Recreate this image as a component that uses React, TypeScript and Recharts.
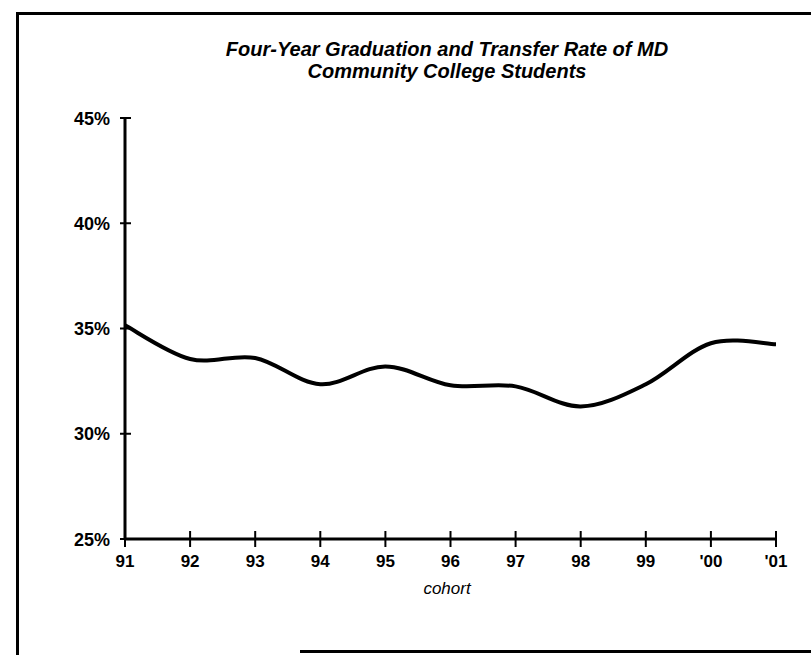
import React from 'react';
import { LineChart, Line, XAxis, YAxis } from 'recharts';

const categories = ['91', '92', '93', '94', '95', '96', '97', '98', '99', "'00", "'01"];
const rates = [35.15, 33.55, 33.6, 32.35, 33.2, 32.3, 32.25, 31.3, 32.35, 34.3, 34.25];
const yTicks = [25, 30, 35, 40, 45];

const data = categories.map((c, i) => ({ cohort: c, rate: rates[i] }));

const FONT = '"Liberation Sans", Arial, sans-serif';

const catmullRom: any = (context: any) => {
  let pts: [number, number][] = [];
  return {
    areaStart() {},
    areaEnd() {},
    lineStart() {
      pts = [];
    },
    lineEnd() {
      const n = pts.length;
      if (!n) return;
      context.moveTo(pts[0][0], pts[0][1]);
      for (let i = 0; i < n - 1; i++) {
        const p0 = pts[Math.max(i - 1, 0)];
        const p1 = pts[i];
        const p2 = pts[i + 1];
        const p3 = pts[Math.min(i + 2, n - 1)];
        context.bezierCurveTo(
          p1[0] + (p2[0] - p0[0]) / 6,
          p1[1] + (p2[1] - p0[1]) / 6,
          p2[0] - (p3[0] - p1[0]) / 6,
          p2[1] - (p3[1] - p1[1]) / 6,
          p2[0],
          p2[1]
        );
      }
    },
    point(x: number, y: number) {
      pts.push([+x, +y]);
    },
  };
};

const XTick = (props: any) => {
  const { x, y, payload } = props;
  return (
    <g>
      <line x1={x} x2={x} y1={y - 8} y2={y + 8} stroke="#000" strokeWidth={2} />
      <text x={x} y={y + 28} textAnchor="middle" fontFamily={FONT} fontWeight="bold" fontSize={17} fill="#000">
        {payload.value}
      </text>
    </g>
  );
};

const YTick = (props: any) => {
  const { x, y, payload } = props;
  return (
    <g>
      <line x1={x - 5} x2={x + 6} y1={y} y2={y} stroke="#000" strokeWidth={2} />
      <text x={x - 15} y={y + 6.5} textAnchor="end" fontFamily={FONT} fontWeight="bold" fontSize={18} fill="#000">
        {`${payload.value}%`}
      </text>
    </g>
  );
};

export default function App() {
  return (
    <div style={{ position: 'absolute', left: 0, top: 0, width: 811, height: 655, background: '#fff', overflow: 'hidden' }}>
      <div
        style={{
          position: 'absolute',
          left: 16,
          top: 12,
          width: 820,
          height: 660,
          borderLeft: '3px solid #000',
          borderTop: '3px solid #000',
        }}
      />
      <div style={{ position: 'absolute', left: 300, top: 650, width: 520, height: 3, background: '#000' }} />
      <div
        style={{
          position: 'absolute',
          left: 150,
          top: 38,
          width: 594,
          textAlign: 'center',
          fontFamily: FONT,
          fontWeight: 'bold',
          fontStyle: 'italic',
          fontSize: 20,
          lineHeight: '22px',
          color: '#000',
        }}
      >
        Four-Year Graduation and Transfer Rate of MD
        <br />
        Community College Students
      </div>
      <div
        style={{
          position: 'absolute',
          left: 347,
          top: 579,
          width: 200,
          textAlign: 'center',
          fontFamily: FONT,
          fontStyle: 'italic',
          fontSize: 17,
          color: '#000',
        }}
      >
        cohort
      </div>
      <div style={{ position: 'absolute', left: 0, top: 0 }}>
        <LineChart width={811} height={655} data={data} margin={{ top: 118, right: 35, bottom: 76, left: 65 }}>
          <XAxis
            dataKey="cohort"
            height={40}
            axisLine={{ stroke: '#000', strokeWidth: 3 }}
            tickLine={false}
            tickSize={0}
            tickMargin={0}
            tick={<XTick />}
            interval={0}
          />
          <YAxis
            width={60}
            domain={[25, 45]}
            ticks={yTicks}
            type="number"
            axisLine={{ stroke: '#000', strokeWidth: 3 }}
            tickLine={false}
            tickSize={0}
            tickMargin={0}
            tick={<YTick />}
            interval={0}
          />
          <Line
            dataKey="rate"
            type={catmullRom}
            stroke="#000"
            strokeWidth={4}
            dot={false}
            isAnimationActive={false}
          />
        </LineChart>
      </div>
    </div>
  );
}
